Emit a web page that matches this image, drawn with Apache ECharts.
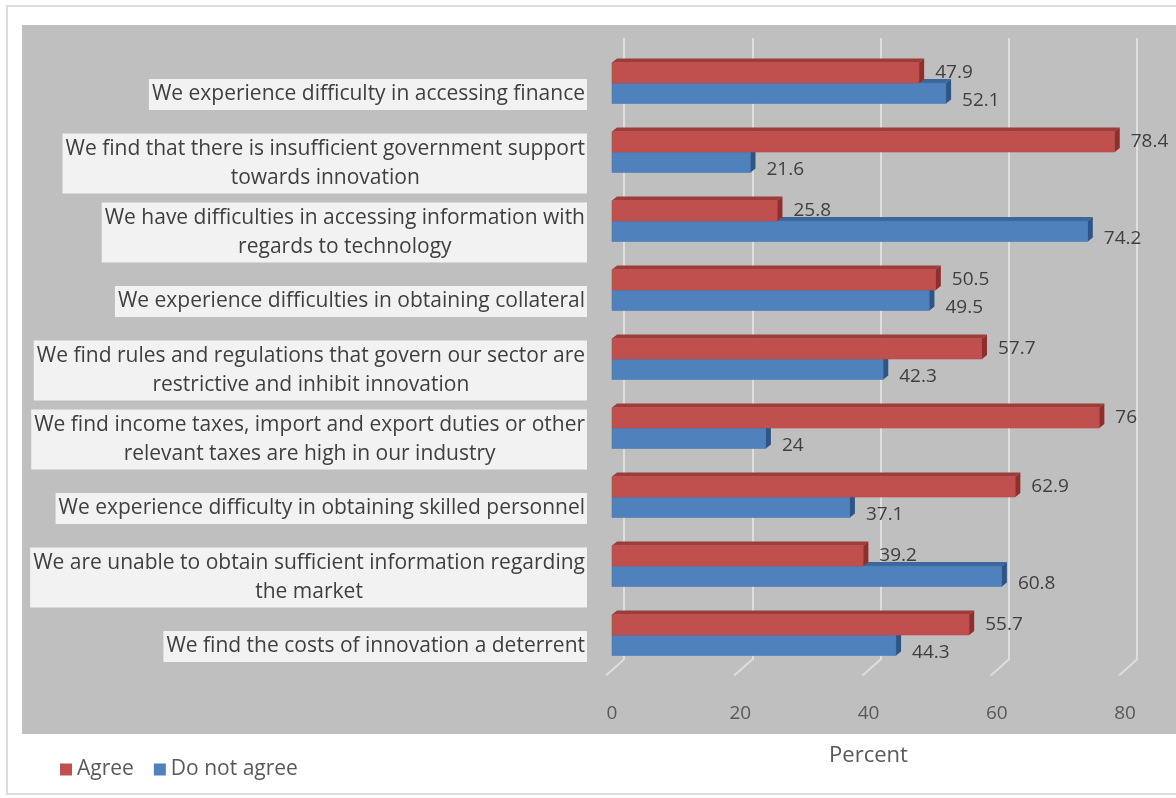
<!DOCTYPE html>
<html><head><meta charset="utf-8">
<script src="https://cdn.jsdelivr.net/npm/echarts@6/dist/echarts.min.js"></script>
<style>html,body{margin:0;padding:0;background:#fff}#c{width:1176px;height:798px}</style>
</head><body><div id="c"></div>
<script>
const categories = [
  "We experience difficulty in accessing finance",
  "We find that there is insufficient government support\ntowards innovation",
  "We have difficulties in accessing information with\nregards to technology",
  "We experience difficulties in obtaining collateral",
  "We find rules and regulations that govern our sector are\nrestrictive and inhibit innovation",
  "We find income taxes, import and export duties or other\nrelevant taxes are high in our industry",
  "We experience difficulty in obtaining skilled personnel",
  "We are unable to obtain sufficient information regarding\nthe market",
  "We find the costs of innovation a deterrent"
];
const agree = [47.9, 78.4, 25.8, 50.5, 57.7, 76, 62.9, 39.2, 55.7];
const notAgree = [52.1, 21.6, 74.2, 49.5, 42.3, 24, 37.1, 60.8, 44.3];
const xTicks = [0, 20, 40, 60, 80];

const FONT = '"Open Sans", Lato, sans-serif';
const chart = echarts.init(document.getElementById('c'), null, {renderer: 'canvas'});

function barRender(isTop, colors) {
  return function (params, api) {
    const cat = api.value(1), val = api.value(0);
    const s = api.coord([0, cat]);
    const e = api.coord([val, cat]);
    const h = 20.5, dx = 5, dy = -4;
    const x0 = s[0], x1 = e[0];
    const y0 = isTop ? s[1] - h : s[1];
    const y1 = y0 + h;
    const label = String(val);
    return {
      type: 'group',
      children: [
        {type: 'polygon', shape: {points: [[x0, y0], [x1, y0], [x1 + dx, y0 + dy], [x0 + dx, y0 + dy]]},
         style: {fill: colors.top}},
        {type: 'rect', shape: {x: x0, y: y0, width: x1 - x0, height: h},
         style: {fill: colors.front, stroke: colors.edge, lineWidth: 0.6}},
        {type: 'polygon', shape: {points: [[x1, y0], [x1 + dx, y0 + dy], [x1 + dx, y1 + dy], [x1, y1]]},
         style: {fill: colors.side}},
        {type: 'text', x: x1 + 16, y: (y0 + y1) / 2 + (isTop ? 0 : 7),
         style: {text: label, fill: '#3f3f3f', font: '19px ' + FONT, textAlign: 'left', textVerticalAlign: 'middle'}}
      ]
    };
  };
}

function floorRender(params, api) {
  const v = api.value(0);
  const p = api.coord([v, 0]);
  const cs = params.coordSys;
  const yb = cs.y + cs.height;
  return {
    type: 'polyline',
    shape: {points: [[p[0] + 12, yb - 10], [p[0] - 6, yb + 6]]},
    style: {stroke: '#dedede', lineWidth: 2, fill: null}
  };
}

const option = {
  animation: false,
  backgroundColor: '#ffffff',
  textStyle: {fontFamily: FONT},
  graphic: [
    {type: 'rect', z: -100, shape: {x: 7, y: 6, width: 1185, height: 788},
     style: {fill: '#ffffff', stroke: '#dcdcdc', lineWidth: 2}},
    {type: 'rect', z: -90, shape: {x: 22, y: 25, width: 1160, height: 709},
     style: {fill: '#bfbfbf'}}
  ],
  grid: [
    {left: 612, right: 51, top: 48.5, bottom: 128.5, containLabel: false},
    {left: 624, right: 39, top: 38, bottom: 138, containLabel: false},
    {left: 612, right: 51, top: 60, bottom: 117, containLabel: false}
  ],
  legend: {
    data: ['Agree', 'Do not agree'],
    left: 55, top: 754, icon: 'rect', itemWidth: 12, itemHeight: 12, itemGap: 20,
    textStyle: {fontSize: 21, color: '#595959', fontFamily: FONT}
  },
  xAxis: [
    {gridIndex: 0, type: 'value', min: 0, max: 80, interval: 20,
     axisLine: {show: false}, axisTick: {show: false}, splitLine: {show: false},
     axisLabel: {color: '#595959', fontSize: 19, margin: 35, fontFamily: FONT},
     name: 'Percent', nameLocation: 'middle', nameGap: 75,
     nameTextStyle: {fontSize: 22, color: '#595959', fontFamily: FONT}},
    {gridIndex: 1, type: 'value', min: 0, max: 80, interval: 20,
     axisLine: {show: false}, axisTick: {show: false}, axisLabel: {show: false},
     splitLine: {show: true, lineStyle: {color: '#dedede', width: 2}}},
    {gridIndex: 2, type: 'value', min: 0, max: 80, show: false}
  ],
  yAxis: [
    {gridIndex: 0, type: 'category', data: categories, inverse: true,
     axisLine: {show: false}, axisTick: {show: false}, axisLabel: {show: false}, splitLine: {show: false}},
    {gridIndex: 1, type: 'category', data: categories, show: false},
    {gridIndex: 2, type: 'category', data: categories, inverse: true,
     axisLine: {show: false}, axisTick: {show: false}, splitLine: {show: false},
     axisLabel: {
       margin: 25, align: 'right',
       backgroundColor: '#f2f2f2', padding: [1, 2, 1, 3],
       formatter: function (v) { return v.split('\n').map(l => '{c|' + l + '}').join('\n'); },
       rich: {c: {align: 'center', fontSize: 21, lineHeight: 29, color: '#3f3f3f', fontFamily: FONT}}
     }}
  ],
  series: [
    {name: 'floor', type: 'custom', xAxisIndex: 0, yAxisIndex: 0, silent: true, z: 1,
     data: xTicks.map(v => [v, 0]), encode: {x: 0, y: 1}, renderItem: floorRender},
    {name: 'Do not agree', type: 'custom', xAxisIndex: 0, yAxisIndex: 0, z: 3,
     itemStyle: {color: '#4f81bd'},
     data: notAgree.map((v, i) => [v, i]), encode: {x: 0, y: 1},
     renderItem: barRender(false, {front: '#4f81bd', top: '#3b6799', side: '#2e5583', edge: '#4a7ab3'})},
    {name: 'Agree', type: 'custom', xAxisIndex: 0, yAxisIndex: 0, z: 4,
     itemStyle: {color: '#c0504d'},
     data: agree.map((v, i) => [v, i]), encode: {x: 0, y: 1},
     renderItem: barRender(true, {front: '#c0504d', top: '#9e3c39', side: '#8b302d', edge: '#b84a47'})}
  ]
};
chart.setOption(option);
</script></body></html>
